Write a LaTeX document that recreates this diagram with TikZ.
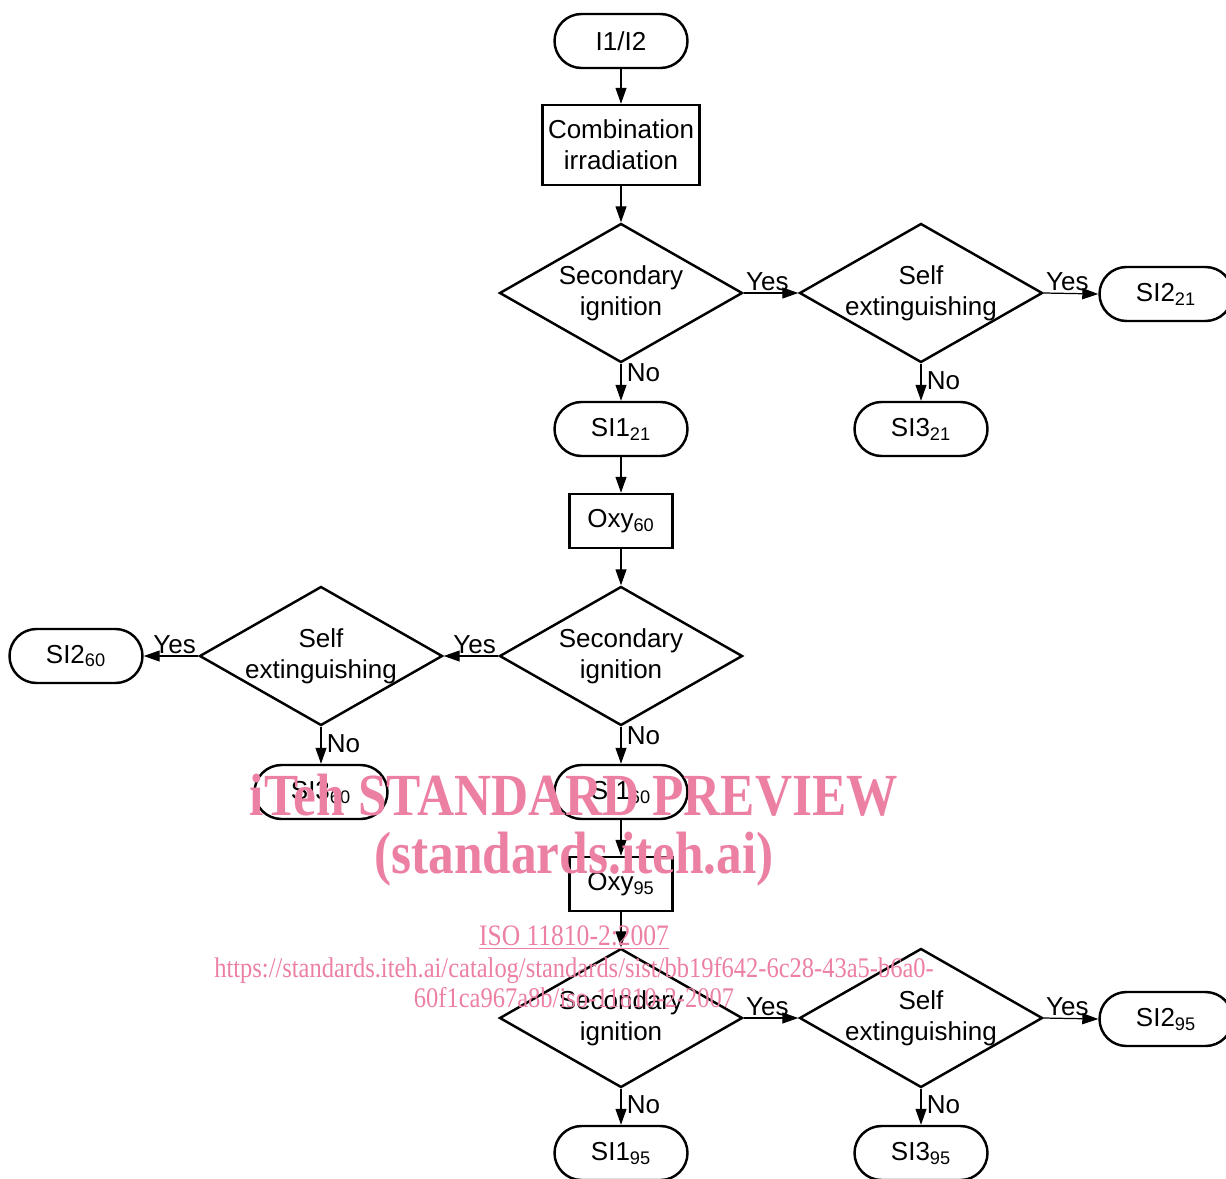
\documentclass[tikz,border=0pt]{standalone}
\usepackage{fontspec}
\setmainfont{Liberation Sans}
\newfontfamily\wmfont{Liberation Serif}
\usetikzlibrary{shapes.geometric,arrows.meta}
\definecolor{wmpink}{RGB}{236,128,162}
\begin{document}
\begin{tikzpicture}[>={Triangle[length=3.2mm,width=2.2mm]},
  font=\fontsize{14.8}{17.6}\selectfont,
  term/.style={draw,line width=1.4pt,rounded corners=5.4mm,minimum width=2.66cm,minimum height=1.08cm,inner sep=0pt},
  proc/.style={draw,line width=1.4pt,minimum height=1.08cm,inner sep=3pt,align=center},
  test/.style={draw,line width=1.4pt,diamond,shape aspect=1.75,minimum width=4.86cm,minimum height=2.78cm,inner sep=-1.5mm,align=center},
  flow/.style={->,line width=0.7pt},
  wm/.style={text=wmpink,xscale=0.86,anchor=base,inner sep=0pt}]
\useasboundingbox (0,0) rectangle (24.52,-23.56);
% Start
\draw (12.42,-0.82) node(start)[term] {I1/I2};
\draw (12.42,-2.90) node(comb)[proc,minimum width=3.14cm,minimum height=1.6cm] {Combination\\irradiation};
% Stage 21
\draw (12.42,-5.86) node(sec1)[test] {Secondary\\ignition};
\draw (18.42,-5.86) node(self1)[test] {Self\\extinguishing};
\draw (23.32,-5.88) node(si2a)[term] {SI2\textsubscript{21}};
\draw (12.42,-8.58) node(si1a)[term] {SI1\textsubscript{21}};
\draw (18.42,-8.58) node(si3a)[term] {SI3\textsubscript{21}};
% Stage 60
\draw (12.42,-10.42) node(oxy60)[proc,minimum width=2.06cm] {Oxy\textsubscript{60}};
\draw (12.42,-13.12) node(sec2)[test] {Secondary\\ignition};
\draw (6.42,-13.12) node(self2)[test] {Self\\extinguishing};
\draw (1.52,-13.12) node(si2b)[term] {SI2\textsubscript{60}};
\draw (6.42,-15.84) node(si3b)[term] {SI3\textsubscript{60}};
\draw (12.42,-15.84) node(si1b)[term] {SI1\textsubscript{60}};
% Stage 95
\draw (12.42,-17.68) node(oxy95)[proc,minimum width=2.06cm] {Oxy\textsubscript{95}};
\draw (12.42,-20.36) node(sec3)[test] {Secondary\\ignition};
\draw (18.42,-20.36) node(self3)[test] {Self\\extinguishing};
\draw (23.32,-20.38) node(si2c)[term] {SI2\textsubscript{95}};
\draw (12.42,-23.06) node(si1c)[term] {SI1\textsubscript{95}};
\draw (18.42,-23.06) node(si3c)[term] {SI3\textsubscript{95}};
% Arrows stage 21
\draw[flow] (start) -- (comb);
\draw[flow] (comb) -- (sec1);
\draw[flow] (sec1.east) -- (self1.west) node[pos=0,above right,inner sep=1pt] {Yes};
\draw[flow] (self1.east) -- (si2a.west) node[pos=0,above right,inner sep=1pt] {Yes};
\draw[flow] (sec1.south) -- (si1a.north) node[pos=0.25,right,inner sep=3pt] {No};
\draw[flow] (self1.south) -- (si3a.north) node[pos=0.45,right,inner sep=3pt] {No};
% Arrows stage 60
\draw[flow] (si1a) -- (oxy60);
\draw[flow] (oxy60) -- (sec2);
\draw[flow] (sec2.west) -- (self2.east) node[pos=0,above left,inner sep=1pt] {Yes};
\draw[flow] (self2.west) -- (si2b.east) node[pos=0,above left,inner sep=1pt] {Yes};
\draw[flow] (sec2.south) -- (si1b.north) node[pos=0.25,right,inner sep=3pt] {No};
\draw[flow] (self2.south) -- (si3b.north) node[pos=0.45,right,inner sep=3pt] {No};
% Arrows stage 95
\draw[flow] (si1b) -- (oxy95);
\draw[flow] (oxy95) -- (sec3);
\draw[flow] (sec3.east) -- (self3.west) node[pos=0,above right,inner sep=1pt] {Yes};
\draw[flow] (self3.east) -- (si2c.west) node[pos=0,above right,inner sep=1pt] {Yes};
\draw[flow] (sec3.south) -- (si1c.north) node[pos=0.45,right,inner sep=3pt] {No};
\draw[flow] (self3.south) -- (si3c.north) node[pos=0.45,right,inner sep=3pt] {No};
% Watermark
\node(wm1)[wm,font=\wmfont\bfseries\fontsize{34}{36}\selectfont] at (11.48,-16.30) {iTeh STANDARD PREVIEW};
\node(wm2)[wm,font=\wmfont\bfseries\fontsize{34}{36}\selectfont] at (11.48,-17.46) {(standards.iteh.ai)};
\node(wm3)[wm,font=\wmfont\fontsize{16.9}{18}\selectfont] at (11.48,-18.90) {\underline{ISO 11810-2:2007}};
\node(wm4)[wm,font=\wmfont\fontsize{16.2}{18}\selectfont] at (11.48,-19.54) {https://standards.iteh.ai/catalog/standards/sist/bb19f642-6c28-43a5-b6a0-};
\node(wm5)[wm,font=\wmfont\fontsize{16.2}{18}\selectfont] at (11.48,-20.14) {60f1ca967a8b/iso-11810-2-2007};
\end{tikzpicture}
\end{document}
